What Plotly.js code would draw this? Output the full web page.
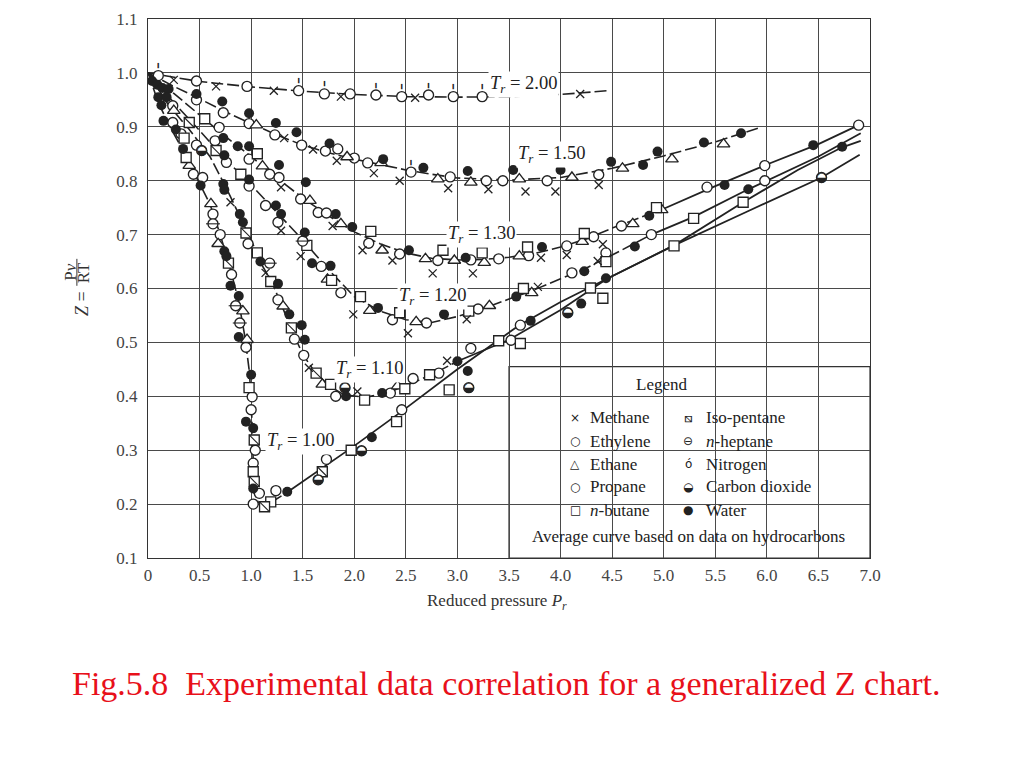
<!DOCTYPE html>
<html><head><meta charset="utf-8">
<script src="https://cdn.plot.ly/plotly-3.0.1.min.js"></script>
<style>body{margin:0;background:#fff}</style>
</head><body><div id="chart" style="width:1024px;height:768px"></div>
<script>
// ---- axis ticks ----
const xTickVals = [0,0.5,1.0,1.5,2.0,2.5,3.0,3.5,4.0,4.5,5.0,5.5,6.0,6.5,7.0];
const xTickText = ['0','0.5','1.0','1.5','2.0','2.5','3.0','3.5','4.0','4.5','5.0','5.5','6.0','6.5','7.0'];
const yTickVals = [0.1,0.2,0.3,0.4,0.5,0.6,0.7,0.8,0.9,1.0,1.1];
const yTickText = ['0.1','0.2','0.3','0.4','0.5','0.6','0.7','0.8','0.9','1.0','1.1'];

// ---- average curves (reduced temperature) ----
const curveLabels = ['2.00','1.50','1.30','1.20','1.10','1.00'];
const curveTr200X = [0,0.5,1.0,1.5,2.0,2.5,3.0,3.5,4.0,4.46];
const curveTr200Y = [1.0,0.984,0.974,0.966,0.960,0.956,0.955,0.956,0.960,0.967];
const curveTr150X = [0,0.25,0.5,0.75,1.0,1.25,1.5,1.75,2.0,2.25,2.5,2.75,3.0,3.5,4.0,4.5,5.0,5.5,5.94];
const curveTr150Y = [1.0,0.975,0.952,0.928,0.906,0.885,0.866,0.852,0.840,0.830,0.820,0.812,0.805,0.801,0.806,0.823,0.846,0.872,0.899];
const curveTr130X = [0,0.25,0.5,0.75,1.0,1.25,1.5,1.75,2.0,2.25,2.5,2.75,3.0,3.25,3.5,3.75,4.0,4.25,4.5,4.75,5.0,5.5,6.0,6.5,6.89];
const curveTr130Y = [1.0,0.962,0.922,0.882,0.845,0.805,0.768,0.735,0.705,0.683,0.666,0.656,0.653,0.654,0.658,0.665,0.677,0.692,0.712,0.730,0.748,0.790,0.830,0.868,0.903];
const curveTr120X = [0,0.25,0.5,0.75,1.0,1.25,1.5,1.75,2.0,2.25,2.5,2.75,3.0,3.25,3.5,3.75,4.0,4.25,4.5,4.88,5.29,5.82,6.0,6.5,6.91];
const curveTr120Y = [1.0,0.945,0.893,0.840,0.792,0.740,0.690,0.635,0.585,0.558,0.542,0.537,0.548,0.563,0.580,0.598,0.618,0.638,0.662,0.700,0.733,0.784,0.800,0.845,0.888];
const curveTr110X = [0,0.2,0.4,0.6,0.75,0.9,1.0,1.1,1.2,1.3,1.4,1.5,1.6,1.75,1.9,2.1,2.3,2.5,2.75,3.0,3.5,4.0,4.45,5.1,5.77,6.3,6.73,6.91];
const curveTr110Y = [1.0,0.94,0.895,0.845,0.79,0.73,0.69,0.645,0.612,0.567,0.52,0.478,0.45,0.42,0.403,0.398,0.405,0.42,0.44,0.465,0.505,0.56,0.618,0.68,0.76,0.82,0.862,0.874];
const curveTr100X = [0,0.1,0.2,0.3,0.4,0.5,0.6,0.7,0.8,0.88,0.94,0.98,1.0,1.02,1.03,1.07,1.15,1.35,1.7,2.0,2.46,3.0,3.6,4.0,4.45,5.1,5.8,6.53,6.9];
const curveTr100Y = [1.0,0.945,0.905,0.87,0.83,0.795,0.757,0.70,0.635,0.575,0.51,0.45,0.40,0.30,0.22,0.203,0.198,0.222,0.268,0.308,0.372,0.45,0.532,0.575,0.618,0.68,0.742,0.806,0.848];

// ---- experimental points by substance ----
const methaneX = [0.25,0.66,1.22,1.87,2.59,4.19,1.32,1.60,1.83,2.19,2.44,2.91,3.30,3.66,3.95,4.37,1.29,1.79,2.08,2.37,2.76,3.15,3.81,4.06,4.41,1.29,1.48,1.99,2.52,3.09,3.78,4.36,0.80,1.14,1.56,2.03,2.90];
const methaneY = [0.987,0.975,0.967,0.956,0.954,0.961,0.879,0.858,0.837,0.814,0.800,0.786,0.784,0.780,0.780,0.792,0.788,0.716,0.671,0.652,0.628,0.628,0.657,0.662,0.682,0.707,0.660,0.552,0.517,0.543,0.603,0.651,0.760,0.629,0.453,0.409,0.466];
// Ethylene and Propane share the same open-circle symbol
const ethylenePropaneX = [0.47,0.96,1.96,0.47,0.73,0.98,1.23,1.49,1.72,1.84,2.00,2.13,2.93,3.28,3.44,3.87,4.37,0.69,0.98,1.18,1.27,1.48,1.65,1.73,2.14,2.44,2.81,3.13,3.40,3.69,4.06,4.32,4.59,5.42,5.98,6.89,0.24,0.65,0.76,0.98,1.14,1.26,1.68,1.87,2.37,2.70,3.20,4.11,4.44,4.88,5.98,0.24,0.47,0.97,1.26,1.42,1.51,1.82,2.35,2.57,2.82,3.52,0.32,0.44,0.53,0.63,0.70,0.81,0.95,1.01,1.00,1.04,1.02,1.08,1.02,1.24,1.73,2.46,3.13,3.61];
const ethylenePropaneY = [0.985,0.975,0.961,0.950,0.926,0.906,0.885,0.866,0.855,0.859,0.842,0.833,0.807,0.800,0.800,0.800,0.811,0.899,0.840,0.812,0.806,0.766,0.741,0.740,0.684,0.664,0.652,0.653,0.655,0.661,0.679,0.696,0.716,0.788,0.828,0.903,0.939,0.874,0.834,0.790,0.754,0.723,0.641,0.592,0.542,0.536,0.562,0.629,0.666,0.700,0.800,0.908,0.866,0.683,0.579,0.506,0.476,0.400,0.406,0.433,0.443,0.504,0.887,0.812,0.806,0.738,0.700,0.626,0.491,0.399,0.375,0.300,0.276,0.220,0.200,0.225,0.283,0.375,0.489,0.532];
const ethaneX = [1.05,1.93,2.26,2.81,3.13,3.60,4.11,4.60,5.08,5.58,1.11,1.57,1.87,2.27,2.69,2.97,3.26,3.60,4.21,4.70,4.98,1.74,2.15,2.60,3.31,3.72,1.31,1.69,2.42,0.25,0.40,0.61,0.68,0.92,0.96];
const ethaneY = [0.903,0.844,0.833,0.803,0.797,0.803,0.806,0.823,0.840,0.868,0.827,0.763,0.720,0.671,0.655,0.652,0.648,0.660,0.687,0.720,0.746,0.617,0.559,0.538,0.568,0.592,0.567,0.422,0.419,0.930,0.828,0.757,0.683,0.558,0.505];
const nButaneX = [1.06,2.16,2.86,3.24,3.68,4.23,4.93,0.55,0.90,1.54,1.78,2.06,2.44,3.11,3.64,4.44,5.29,0.35,1.06,1.19,1.77,2.10,2.49,2.73,2.92,3.40,3.61,4.29,4.41,5.10,5.77,0.37,0.98,1.02,1.19,1.97,2.41];
const nButaneY = [0.850,0.706,0.671,0.666,0.677,0.702,0.750,0.915,0.812,0.680,0.615,0.585,0.555,0.558,0.600,0.650,0.730,0.879,0.666,0.613,0.422,0.393,0.414,0.440,0.412,0.503,0.498,0.601,0.582,0.679,0.760,0.843,0.416,0.260,0.204,0.300,0.353];
const isoPentaneX = [0.40,0.66,0.78,0.95,1.39,1.63,1.03,1.03,1.13,1.69];
const isoPentaneY = [0.908,0.856,0.647,0.703,0.527,0.443,0.319,0.242,0.195,0.260];
const nHeptaneX = [0.63,0.85,0.89,1.18,1.50];
const nHeptaneY = [0.720,0.568,0.536,0.647,0.688];
const nitrogenX = [0.10,1.46,1.71,2.21,2.46,2.72,2.96,3.24,2.55];
const nitrogenY = [0.995,0.967,0.961,0.959,0.956,0.959,0.956,0.956,0.816];
const co2X = [0.52,1.91,1.65,2.07,3.11,4.07,6.53];
const co2Y = [0.856,0.416,0.245,0.299,0.416,0.555,0.806];
const waterX = [0.04,0.09,0.14,0.20,0.10,0.13,0.18,0.47,0.72,0.98,1.24,1.44,1.76,2.28,2.67,3.10,3.54,4.00,4.49,4.80,4.94,5.39,5.75,0.73,0.87,0.98,1.27,1.53,1.82,1.98,2.53,3.08,3.82,4.86,5.59,6.45,0.74,0.98,1.24,1.29,1.52,1.59,1.77,2.23,2.87,3.57,4.23,4.72,5.82,6.73,0.73,0.74,0.89,0.92,1.09,1.26,1.37,1.49,1.52,1.92,2.27,3.00,3.71,0.15,0.27,0.34,0.51,0.74,0.76,0.80,0.88,0.88,1.00,0.95,1.02,1.02,1.35,2.17,3.10,4.20,4.44];
const waterY = [0.985,0.978,0.972,0.970,0.955,0.940,0.955,0.961,0.947,0.925,0.907,0.890,0.869,0.840,0.824,0.818,0.820,0.820,0.835,0.829,0.854,0.871,0.888,0.879,0.864,0.864,0.829,0.797,0.738,0.714,0.671,0.657,0.677,0.735,0.792,0.866,0.847,0.802,0.754,0.738,0.704,0.647,0.642,0.564,0.552,0.585,0.632,0.678,0.784,0.863,0.794,0.783,0.738,0.723,0.650,0.609,0.552,0.532,0.505,0.400,0.406,0.465,0.540,0.911,0.895,0.859,0.791,0.669,0.660,0.605,0.586,0.510,0.440,0.353,0.341,0.229,0.223,0.324,0.447,0.572,0.619];

// legend entries (two columns)
const legendCol1 = ['Methane','Ethylene','Ethane','Propane','<i>n</i>-butane'];
const legendCol2 = ['Iso-pentane','<i>n</i>-heptane','Nitrogen','Carbon dioxide','Water'];

// ---------------- styles ----------------
const SERIF = 'Liberation Serif, Times New Roman, serif';
const INK = '#222';
const curves = [
  {x: curveTr200X, y: curveTr200Y, solidFrom: null, lab: [3.64, 0.978]},
  {x: curveTr150X, y: curveTr150Y, solidFrom: null, lab: [3.91, 0.848]},
  {x: curveTr130X, y: curveTr130Y, solidFrom: 5.0,  lab: [3.23, 0.700]},
  {x: curveTr120X, y: curveTr120Y, solidFrom: 4.88, lab: [2.76, 0.586]},
  {x: curveTr110X, y: curveTr110Y, solidFrom: 3.0,  lab: [2.15, 0.449]},
  {x: curveTr100X, y: curveTr100Y, solidFrom: 1.35, lab: [1.48, 0.316]}
];
const traces = [];
curves.forEach(c => {
  const lim = c.solidFrom === null ? Infinity : c.solidFrom;
  const dx = [], dy = [], sx = [], sy = [];
  c.x.forEach((v, i) => {
    if (v <= lim) { dx.push(v); dy.push(c.y[i]); }
    if (v >= lim) { sx.push(v); sy.push(c.y[i]); }
  });
  traces.push({x: dx, y: dy, mode: 'lines', line: {color: INK, width: 1.6, dash: '12px,4px'}, hoverinfo: 'skip'});
  if (sx.length) traces.push({x: sx, y: sy, mode: 'lines', line: {color: INK, width: 1.8}, hoverinfo: 'skip'});
});
const openM = (sym, size) => ({symbol: sym, size: size, color: '#fff', line: {color: INK, width: 1.35}});
const strokeM = (sym, size, w) => ({symbol: sym, size: size, color: INK, line: {color: INK, width: w}});
traces.push({x: ethylenePropaneX, y: ethylenePropaneY, mode: 'markers', marker: openM('circle', 10)});
traces.push({x: ethaneX, y: ethaneY, mode: 'markers', marker: openM('triangle-up', 11)});
traces.push({x: nButaneX, y: nButaneY, mode: 'markers', marker: openM('square', 10)});
traces.push({x: isoPentaneX, y: isoPentaneY, mode: 'markers', marker: openM('square', 10)});
traces.push({x: isoPentaneX, y: isoPentaneY, mode: 'markers', marker: strokeM('line-nw-open', 10, 1.1)});
traces.push({x: nHeptaneX, y: nHeptaneY, mode: 'markers', marker: openM('circle', 10)});
traces.push({x: nHeptaneX, y: nHeptaneY, mode: 'markers', marker: strokeM('line-ew-open', 10, 1.1)});
traces.push({x: nitrogenX, y: nitrogenY, mode: 'markers+text', marker: openM('circle', 10),
  text: nitrogenX.map(() => '\u257B'), textposition: 'top center', textfont: {family: 'DejaVu Sans Mono', size: 9, color: INK}});
traces.push({x: co2X, y: co2Y, mode: 'markers', marker: openM('circle', 10)});
traces.push({x: co2X, y: co2Y, mode: 'text', text: co2X.map(() => '\u25D2'), textposition: 'middle center', textfont: {family: 'DejaVu Sans', size: 13, color: INK}});
traces.push({x: waterX, y: waterY, mode: 'markers', marker: {symbol: 'circle', size: 10, color: INK, line: {width: 0}}});
traces.push({x: methaneX, y: methaneY, mode: 'markers', marker: strokeM('x-thin-open', 8, 1.3)});

// ---------------- annotations ----------------
const ann = [];
const A = o => Object.assign({showarrow: false, xanchor: 'center', yanchor: 'middle'}, o);
curves.forEach((c, i) => {
  ann.push(A({x: c.lab[0], y: c.lab[1], xref: 'x', yref: 'y',
    text: '<i>T<sub>r</sub></i> = ' + curveLabels[i], bgcolor: '#fff', borderpad: 1,
    font: {family: SERIF, size: 18.5, color: INK}}));
});
// legend box contents
ann.push(A({x: 4.98, y: 0.421, xref: 'x', yref: 'y', text: 'Legend', font: {family: SERIF, size: 17, color: INK}}));
const rowY = [0.360, 0.317, 0.274, 0.232, 0.189];
const sym1 = ['\u00D7', '\u25CB', '\u25B3', '\u25CB', '\u25A1'];
const sym2 = ['\u29C5', '\u2296', '\u00F3', '\u25D2', '\u25CF'];
legendCol1.forEach((t, i) => {
  ann.push(A({x: 4.14, y: rowY[i], xref: 'x', yref: 'y', text: sym1[i], font: {family: 'DejaVu Sans', size: 12, color: INK}}));
  ann.push(A({x: 4.27, y: rowY[i], xref: 'x', yref: 'y', xanchor: 'left', text: t, font: {family: SERIF, size: 17, color: INK}}));
});
legendCol2.forEach((t, i) => {
  ann.push(A({x: 5.24, y: rowY[i], xref: 'x', yref: 'y', text: sym2[i], font: {family: 'DejaVu Sans', size: 12, color: INK}}));
  ann.push(A({x: 5.39, y: rowY[i], xref: 'x', yref: 'y', xanchor: 'left', text: t, font: {family: SERIF, size: 17, color: INK}}));
});
ann.push(A({x: 5.24, y: 0.139, xref: 'x', yref: 'y', text: 'Average curve based on data on hydrocarbons', font: {family: SERIF, size: 17, color: INK}}));
// axis titles
ann.push(A({x: 0.483, y: -0.0816, xref: 'paper', yref: 'paper', text: 'Reduced pressure <i>P<sub>r</sub></i>', font: {family: SERIF, size: 17, color: '#333'}}));
ann.push(A({x: -0.0914, y: 0.4712, xref: 'paper', yref: 'paper', textangle: -90, text: '<i>Z</i> =', font: {family: SERIF, size: 18, color: '#333'}}));
ann.push(A({x: -0.1075, y: 0.5300, xref: 'paper', yref: 'paper', textangle: -90, text: 'P<i>v</i>', font: {family: SERIF, size: 17, color: '#333'}}));
ann.push(A({x: -0.0895, y: 0.5290, xref: 'paper', yref: 'paper', textangle: -90, text: 'RT', font: {family: SERIF, size: 17, color: '#333'}}));
// caption
ann.push(A({x: -0.108, y: -0.232, xref: 'paper', yref: 'paper', xanchor: 'left',
  text: 'Fig.5.8\u00A0\u00A0Experimental data correlation for a generalized Z chart.', font: {family: SERIF, size: 34, color: '#e8101a'}}));

const axisBase = {showgrid: true, gridcolor: '#4a4a4a', gridwidth: 1, showline: true, linecolor: '#333', linewidth: 1.2,
  mirror: true, zeroline: false, ticks: '', tickfont: {family: SERIF, size: 17, color: '#444'}, fixedrange: true};

const layout = {
  width: 1024, height: 768,
  margin: {l: 148, r: 154, t: 19, b: 210},
  paper_bgcolor: '#fff', plot_bgcolor: '#fff',
  showlegend: false, hovermode: false,
  xaxis: Object.assign({}, axisBase, {range: [0, 7], tickmode: 'array', tickvals: xTickVals, ticktext: xTickText, ticklabelstandoff: 1}),
  yaxis: Object.assign({}, axisBase, {range: [0.1, 1.1], tickmode: 'array', tickvals: yTickVals, ticktext: yTickText, ticklabelstandoff: 6}),
  shapes: [
    {type: 'rect', xref: 'x', yref: 'y', x0: 3.5, x1: 7.0, y0: 0.1, y1: 0.455, fillcolor: '#fff', line: {color: '#333', width: 1.2}, layer: 'below'},
    {type: 'line', xref: 'paper', yref: 'paper', x0: -0.0985, x1: -0.0985, y0: 0.505, y1: 0.555, line: {color: '#333', width: 1}}
  ],
  annotations: ann
};
Plotly.newPlot('chart', traces, layout, {displayModeBar: false, staticPlot: true});
</script>
</body></html>
